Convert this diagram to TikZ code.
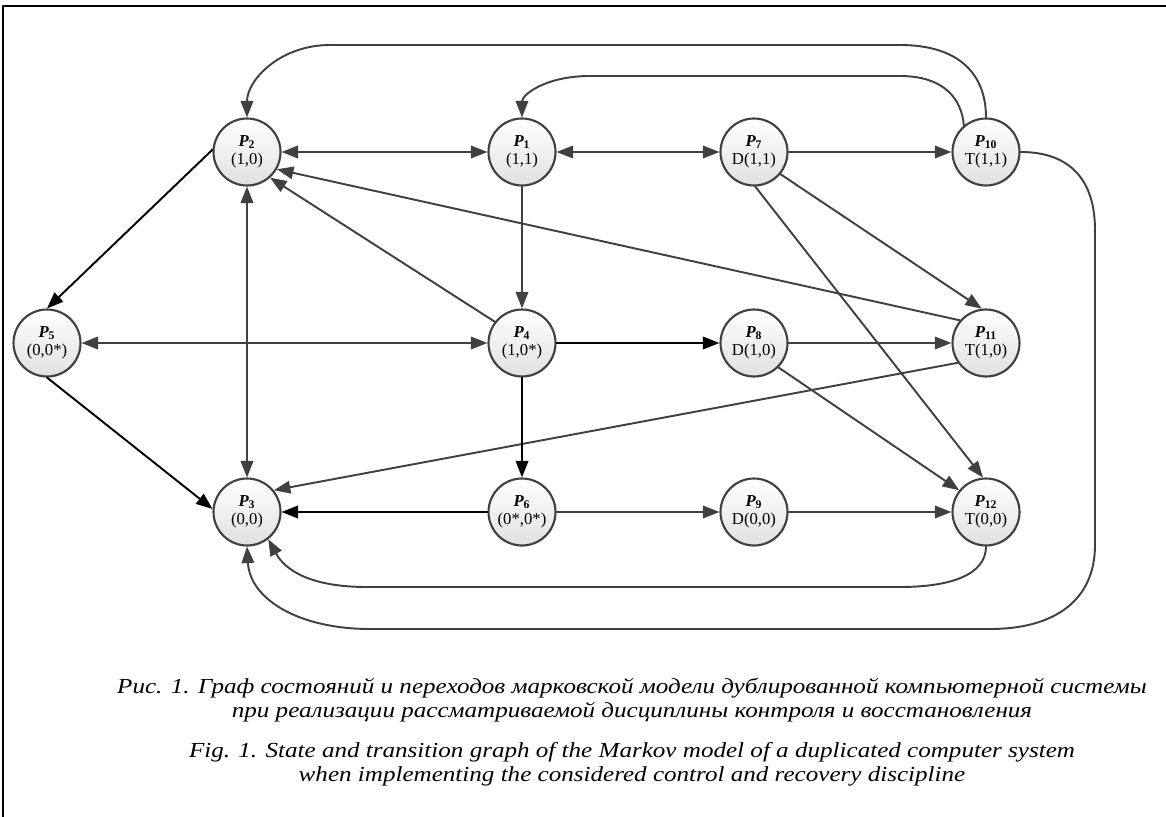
\documentclass[tikz,border=0pt]{standalone}
\usepackage{fontspec}
\setmainfont{Liberation Serif}
\newfontfamily\capfont[FakeStretch=1.17]{Liberation Serif}
\usetikzlibrary{arrows.meta,shadows}
\definecolor{edgegray}{RGB}{64,64,64}
\tikzset{
  every picture/.append style={line cap=round,line join=round},
  mk state/.style={circle,draw=edgegray,line width=1.2pt,minimum size=1.34cm,inner sep=0pt,
    top color=white,bottom color=black!12,align=center,font=\fontsize{9.5}{10.5}\selectfont,
    drop shadow={opacity=0.2,shadow xshift=0.6pt,shadow yshift=-0.6pt}},
  mk edge/.style={draw=edgegray,line width=1.1pt,-{Triangle[length=3.3mm,width=2.5mm]}},
  mk both/.style={mk edge,{Triangle[length=3.3mm,width=2.5mm]}-{Triangle[length=3.3mm,width=2.5mm]}},
  mk main/.style={mk edge,draw=black},
  mk caption/.style={font=\capfont\itshape\fontsize{12.2}{13.8}\selectfont,align=center}
}
\newcommand{\stlab}[2]{{\bfseries\itshape P}\textsubscript{\bfseries #1}\\#2}

\begin{document}
\begin{tikzpicture}[x=0.02cm,y=-0.02cm]
  \useasboundingbox (0,0) rectangle (1166,817);
  \draw[line width=0.9pt] (3,817) -- (3,6) -- (1166,6);

  % states
  \node[mk state] (p2)  at (247,152) {\stlab{2}{(1,0)}};
  \node[mk state] (p1)  at (522,152) {\stlab{1}{(1,1)}};
  \node[mk state] (p7)  at (754,152) {\stlab{7}{D(1,1)}};
  \node[mk state] (p10) at (986,152) {\stlab{10}{T(1,1)}};
  \node[mk state] (p5)  at (47,343)  {\stlab{5}{(0,0*)}};
  \node[mk state] (p4)  at (522,343) {\stlab{4}{(1,0*)}};
  \node[mk state] (p8)  at (754,343) {\stlab{8}{D(1,0)}};
  \node[mk state] (p11) at (986,343) {\stlab{11}{T(1,0)}};
  \node[mk state] (p3)  at (247,512) {\stlab{3}{(0,0)}};
  \node[mk state] (p6)  at (522,512) {\stlab{6}{(0*,0*)}};
  \node[mk state] (p9)  at (754,512) {\stlab{9}{D(0,0)}};
  \node[mk state] (p12) at (986,512) {\stlab{12}{T(0,0)}};

  % straight transitions
  \draw[mk both] (p2) -- (p1);
  \draw[mk both] (p1) -- (p7);
  \draw[mk edge] (p7) -- (p10);
  \draw[mk edge] (p1) -- (p4);
  \draw[mk both] (p2) -- (p3);
  \draw[mk both] (p5) -- (p4);
  \draw[mk edge] (p4.142) -- (p2.-48);
  \draw[mk edge] (p11.139) -- (p2.-30);
  \draw[mk edge] (p7.-40) -- (p11.97);
  \draw[mk edge] (p7.-88) -- (p12.95);
  \draw[mk edge] (p8) -- (p11);
  \draw[mk edge] (p8.-45) -- (p12.141);
  \draw[mk edge] (p11.215) -- (p3.39);
  \draw[mk edge] (p6) -- (p9);
  \draw[mk edge] (p9) -- (p12);
  \draw[mk main] (p2.176) -- (p5.north);
  \draw[mk main] (p5.south) -- (p3.175);
  \draw[mk main] (p4) -- (p8);
  \draw[mk main] (p4) -- (p6);
  \draw[mk main] (p6) -- (p3);

  % returns round the outside
  \draw[mk edge] (p10.north) .. controls (986,75) and (960,45) .. (900,45)
    -- (330,45) .. controls (280,45) and (247,80) .. (p2.north);
  \draw[mk edge] (p10.130) .. controls (962,100) and (945,76) .. (900,76)
    -- (590,76) .. controls (545,76) and (522,95) .. (p1.north);
  \draw[mk edge] (p10.east) .. controls (1070,152) and (1095,180) .. (1095,230)
    -- (1095,545) .. controls (1095,600) and (1055,629) .. (990,629)
    -- (370,629) .. controls (300,629) and (250,600) .. (p3.south);
  \draw[mk edge] (p12.south) .. controls (986,575) and (950,587) .. (900,587)
    -- (367,587) .. controls (310,587) and (285,570) .. (p3.-52);

  % caption
  \node[mk caption] (capru) at (632,700) {Рис. 1. Граф состояний и переходов марковской модели дублированной компьютерной системы\\при реализации рассматриваемой дисциплины контроля и восстановления};
  \node[mk caption] (capen) at (632,764) {Fig. 1. State and transition graph of the Markov model of a duplicated computer system\\when implementing the considered control and recovery discipline};
\end{tikzpicture}
\end{document}
